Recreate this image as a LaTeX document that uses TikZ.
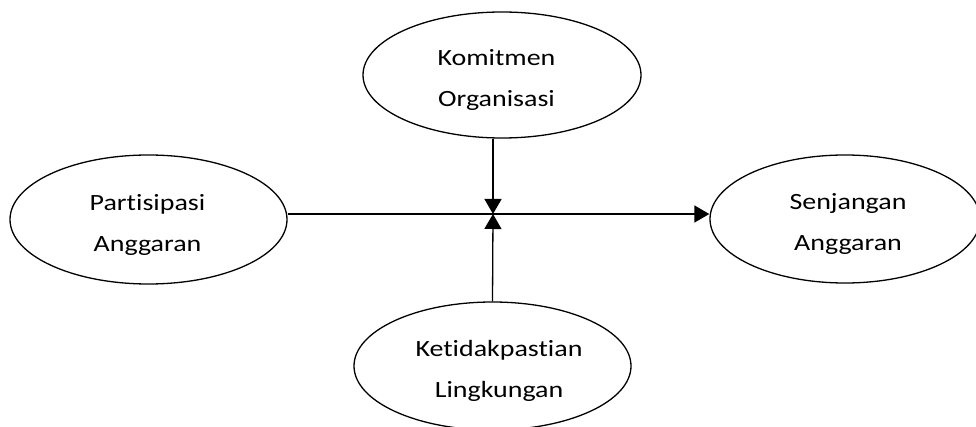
\documentclass[tikz,border=0pt]{standalone}
\usepackage{fontspec}
\setmainfont[Ligatures={NoCommon},FakeStretch=1.2]{Carlito}
\usetikzlibrary{arrows.meta,shapes.geometric}
\begin{document}
\begin{tikzpicture}[x=1pt,y=1pt,
  var/.style={draw=black,line width=1.3pt,ellipse,inner sep=0pt},
  txt/.style={align=center,inner sep=0pt,font=\fontsize{23.3}{41}\selectfont},
  arr/.style={line width=1.3pt,-{Triangle[width=17pt,length=15pt]}}]
\useasboundingbox (0,0) rectangle (976,426);
\clip (0,0) rectangle (976,426);
\node[var,minimum width=278pt,minimum height=126pt] (komit) at (502,351) {};
\node[var,minimum width=277pt,minimum height=129pt] (part) at (148.5,206.5) {};
\node[var,minimum width=270pt,minimum height=128pt] (senj) at (845,207) {};
\node[var,minimum width=277pt,minimum height=128pt] (ketid) at (492.5,60) {};
\node[txt] (komitT) at ([shift={(-5.5,-5)}]komit.center) {Komitmen\\Organisasi};
\node[txt] (partT) at ([shift={(-1,-5)}]part.center) {Partisipasi\\Anggaran};
\node[txt] (senjT) at ([shift={(3,-5)}]senj.center) {Senjangan\\Anggaran};
\node[txt] (ketidT) at ([shift={(6.5,-5)}]ketid.center) {Ketidakpastian\\Lingkungan};
\coordinate (mid) at (493,212);
\draw[arr] (part.east |- mid) -- (senj.west |- mid);
\draw[arr] (komit.south -| mid) -- (mid);
\draw[arr] (ketid.north) -- (mid);
\end{tikzpicture}
\end{document}
